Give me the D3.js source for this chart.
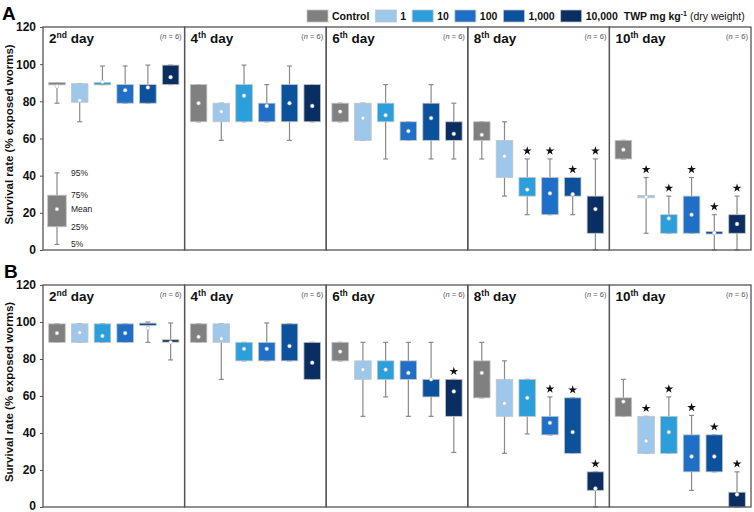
<!DOCTYPE html>
<html>
<head>
<meta charset="utf-8">
<script src="https://cdn.jsdelivr.net/npm/d3@7"></script>
<style>
  html, body { margin: 0; padding: 0; background: #fff; }
  svg { display: block; font-family: "Liberation Sans", Arial, sans-serif; }
</style>
</head>
<body>
<div id="chart"></div>
<script>
// days and groups
const days = ["2", "4", "6", "8", "10"];
const daySuffix = ["nd", "th", "th", "th", "th"];
const groups = ["Control", "1", "10", "100", "1,000", "10,000"];
const colors = ["#808080", "#9dc8ec", "#2a9fdc", "#1f6fc6", "#0c519c", "#0a2e62"];

// each box: [5%, 25%, 75%, 95%, mean]
const A2  = [[79, 89, 90, 90, 88], [69, 79.5, 89.5, 89.5, 80.5], [89, 89, 90, 99, 90.5], [79, 79, 89, 99, 86], [79, 79, 89, 99.5, 87.5], [89, 89, 99.5, 99.5, 93]];
const A4  = [[69, 69, 89, 89, 79], [59, 69, 79, 79, 74.5], [69, 69, 89, 99.5, 83], [69, 69, 79, 89, 77.5], [59, 69, 89, 99, 79], [69, 69, 89, 89, 77.5]];
const A6  = [[69, 69, 79, 79, 74.5], [59, 59, 79, 79, 71], [49, 69, 79, 89, 72.5], [59, 59, 69, 69, 64], [49, 59, 79, 89, 71], [49, 59, 69, 79, 62.5]];
const A8  = [[49, 59, 69, 69, 62], [29, 39, 59, 69, 50.5], [19, 29, 39, 49, 32.5], [19, 19, 39, 49, 30.5], [19, 29, 39, 39, 30], [0, 9, 29, 49, 22]];
const A10 = [[49, 49, 59, 59, 54], [9, 28.5, 29, 39, 28.5], [9, 9, 19, 29, 17], [9, 9, 29, 39, 19], [0, 9, 9.5, 19, 9.2], [0, 9, 19, 29, 14]];

const B2  = [[89, 89, 99, 99, 94], [89, 89, 99, 99, 94.3], [89, 89, 99, 99, 92.5], [89, 89, 99, 99, 94], [89, 98.5, 99, 100, 96.7], [79.5, 89.5, 90, 99.5, 89]];
const B4  = [[89, 89, 99, 99, 92], [69, 89, 99, 99, 91], [79, 79, 89, 89, 85.5], [79, 79, 89, 99.5, 85.5], [79, 79, 99, 99, 87], [69, 69, 89, 89, 78]];
const B6  = [[79, 79, 89, 89, 84], [49, 69, 79, 89, 74.3], [59.5, 69, 79, 89, 74.3], [49, 69, 79, 89, 72.5], [49, 59.5, 69, 89, 69], [29.5, 49, 69, 69, 62.5]];
const B8  = [[59, 59, 79, 89, 72.5], [29, 49, 69, 79, 56], [39.5, 49, 69, 69, 59], [39, 39, 49, 59.5, 45.5], [29, 29, 59, 59, 40.5], [0, 9, 19, 19, 10]];
const B10 = [[49, 49, 59, 69, 57], [29, 29, 49, 49, 35.7], [29, 29, 49, 59.5, 40.5], [9, 19, 39, 49.5, 27.3], [19, 19, 39, 39, 27.3], [0, 0, 8, 19, 6.8]];

// significance stars (1 = marked)
const sigA = [[0,0,0,0,0,0], [0,0,0,0,0,0], [0,0,0,0,0,0], [0,0,1,1,1,1], [0,1,1,1,1,1]];
const sigB = [[0,0,0,0,0,0], [0,0,0,0,0,0], [0,0,0,0,0,1], [0,0,0,1,1,1], [0,1,1,1,1,1]];

// explanation box drawn in panel A, 2nd day
const keyBox = [3, 12.5, 29.5, 41.5, 22];
const keyLabels = ["5%", "25%", "75%", "95%", "Mean"];

const yTicks = [0, 20, 40, 60, 80, 100, 120];

const width = 754, height = 512;

const svg = d3.select("#chart").append("svg")
    .attr("width", width)
    .attr("height", height);

const x = d3.scaleBand().domain(days).range([43, 751]);
const xi = d3.scaleBand().domain(groups).range([0, x.bandwidth()])
    .paddingInner(0.27).paddingOuter(0.25);

const rows = [
  { key: "A", data: [A2, A4, A6, A8, A10], sig: sigA, top: 27, bottom: 250 },
  { key: "B", data: [B2, B4, B6, B8, B10], sig: sigB, top: 285, bottom: 507 }
];

function drawBox(g, s, cx, bw, y, fill) {
  const [lo, q1, q3, hi, mean] = s;
  const cap = 2.5;
  g.append("line")
      .attr("x1", cx).attr("x2", cx)
      .attr("y1", y(lo)).attr("y2", y(hi))
      .attr("stroke", "#8a8a8a").attr("stroke-width", 1.2);
  [lo, hi].forEach(v => g.append("line")
      .attr("x1", cx - cap).attr("x2", cx + cap)
      .attr("y1", y(v)).attr("y2", y(v))
      .attr("stroke", "#8a8a8a").attr("stroke-width", 1.2));
  const top = y(q3), h = Math.max(y(q1) - y(q3), 2.4);
  g.append("rect")
      .attr("x", cx - bw / 2).attr("width", bw)
      .attr("y", h > y(q1) - y(q3) ? (y(q1) + y(q3)) / 2 - h / 2 : top)
      .attr("height", h)
      .attr("fill", fill)
      .attr("stroke", "#c4c4c4").attr("stroke-width", 0.8);
  g.append("circle")
      .attr("cx", cx).attr("cy", y(mean)).attr("r", 1.9)
      .attr("fill", "#fff").attr("stroke", "#aaa").attr("stroke-width", 0.5);
}

rows.forEach(row => {
  const y = d3.scaleLinear().domain([0, 120]).range([row.bottom, row.top]);
  const g = svg.append("g");

  // panel letter
  svg.append("text")
      .attr("x", row.key === "A" ? 2 : 4)
      .attr("y", row.top - 7)
      .attr("font-size", 19).attr("font-weight", "bold")
      .text(row.key);

  // y axis
  const ax = g.append("g")
      .attr("transform", `translate(${x.range()[0]},0)`)
      .call(d3.axisLeft(y).tickValues(yTicks).tickSize(3).tickPadding(4));
  ax.select(".domain").remove();
  ax.selectAll(".tick line").attr("stroke", "#555");
  ax.selectAll(".tick text")
      .attr("font-size", 12).attr("font-weight", "bold")
      .attr("font-family", "Liberation Sans, Arial, sans-serif")
      .attr("dy", d => d === 0 && row.key === "B" ? "0.2em" : "0.32em")
      .attr("fill", "#111");

  g.append("text")
      .attr("transform", `translate(13,${(row.top + row.bottom) / 2 - 4}) rotate(-90)`)
      .attr("text-anchor", "middle")
      .attr("font-size", 11.5).attr("font-weight", "bold")
      .attr("fill", "#111")
      .text("Survival rate (% exposed worms)");

  days.forEach((d, di) => {
    const px = x(d);
    const pg = g.append("g");

    row.data[di].forEach((s, gi) => {
      const cx = px + xi(groups[gi]) + xi.bandwidth() / 2;
      drawBox(pg, s, cx, xi.bandwidth(), y, colors[gi]);
      if (row.sig[di][gi]) {
        pg.append("path")
            .attr("d", d3.symbol(d3.symbolStar, 24)())
            .attr("transform", `translate(${cx},${y(s[3]) - 8})`)
            .attr("fill", "#111");
      }
    });

    // frame
    pg.append("rect")
        .attr("x", px).attr("y", row.top)
        .attr("width", x.bandwidth()).attr("height", row.bottom - row.top)
        .attr("fill", "none").attr("stroke", "#555").attr("stroke-width", 1.3);

    // day title
    const t = pg.append("text")
        .attr("x", px + 6).attr("y", row.top + 16)
        .attr("font-size", 13.5).attr("font-weight", "bold").attr("fill", "#111");
    t.append("tspan").text(d);
    t.append("tspan").attr("font-size", 8.5).attr("dy", -5).text(daySuffix[di]);
    t.append("tspan").attr("dy", 5).text(" day");

    // n label
    const n = pg.append("text")
        .attr("x", px + x.bandwidth() - 3).attr("y", row.top + 12)
        .attr("text-anchor", "end")
        .attr("font-size", 7.5).attr("fill", "#555");
    n.append("tspan").text("(");
    n.append("tspan").attr("font-style", "italic").text("n");
    n.append("tspan").text(" = 6)");
  });

  // key box explaining the marks
  if (row.key === "A") {
    const kx = x(days[0]) + xi(groups[0]) + xi.bandwidth() / 2;
    drawBox(g, keyBox, kx, xi.bandwidth() + 2, y, colors[0]);
    keyBox.forEach((v, i) => {
      g.append("text")
          .attr("x", kx + 14)
          .attr("y", y(v))
          .attr("dy", "0.35em")
          .attr("font-size", 8.5).attr("fill", "#222")
          .text(keyLabels[i]);
    });
  }
});

// legend across the top
const leg = svg.append("g").attr("transform", "translate(307,10)");
let lx = 0;
groups.forEach((grp, i) => {
  leg.append("rect")
      .attr("x", lx).attr("y", 0).attr("width", 21).attr("height", 12)
      .attr("fill", colors[i]).attr("stroke", "#c4c4c4").attr("stroke-width", 0.8);
  const tx = leg.append("text")
      .attr("x", lx + 25).attr("y", 10)
      .attr("font-size", 10.5).attr("font-weight", "bold").attr("fill", "#111")
      .text(grp);
  lx += 25 + tx.node().getComputedTextLength() + 6;
});
const unit = leg.append("text")
    .attr("x", lx).attr("y", 10)
    .attr("font-size", 10.5).attr("fill", "#111");
unit.append("tspan").attr("font-weight", "bold").text("TWP mg kg");
unit.append("tspan").attr("font-weight", "bold").attr("font-size", 7).attr("dy", -4).text("-1");
unit.append("tspan").attr("dy", 4).text(" (dry weight)");
</script>
</body>
</html>
